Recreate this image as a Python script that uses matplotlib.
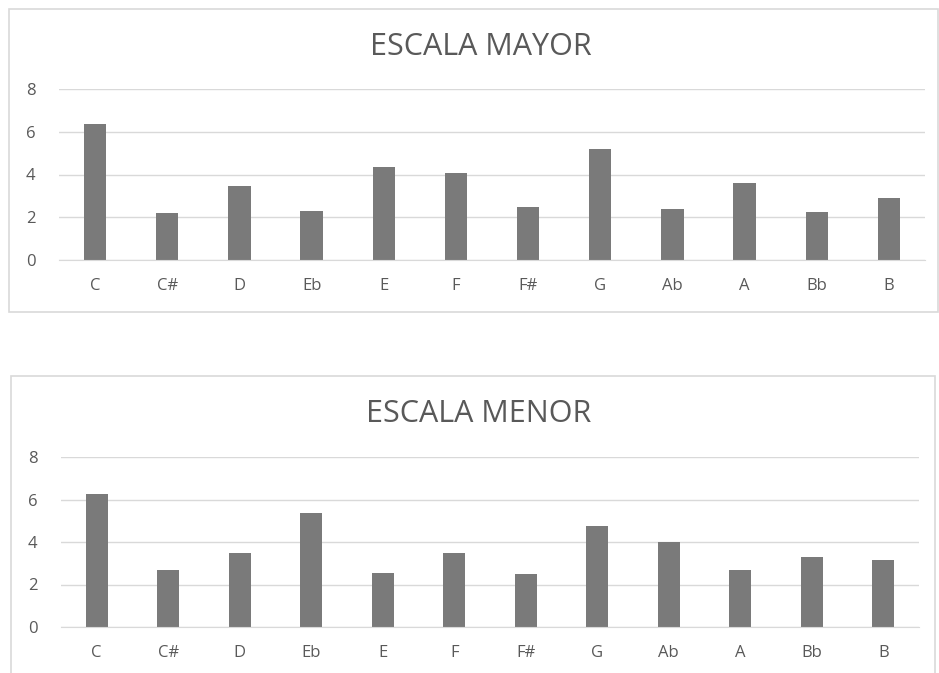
import matplotlib
matplotlib.use("Agg")
import matplotlib.pyplot as plt
from matplotlib.patches import Rectangle

# Note names along the x axis, shared by both scales
notes = ["C", "C#", "D", "Eb", "E", "F", "F#", "G", "Ab", "A", "Bb", "B"]

# Weight per note, major scale
mayor = [6.35, 2.2, 3.45, 2.3, 4.37, 4.06, 2.5, 5.17, 2.37, 3.62, 2.25, 2.88]
# Weight per note, minor scale
menor = [6.27, 2.67, 3.48, 5.35, 2.56, 3.48, 2.49, 4.74, 3.98, 2.67, 3.29, 3.17]

y_ticks = [0, 2, 4, 6, 8]

W, H = 939, 673
BAR = "#7a7a7a"
TEXT = "#595959"
GRID = "#d9d9d9"
FRAME = "#d9d9d9"

plt.rcParams["font.family"] = ["Open Sans", "DejaVu Sans"]

fig = plt.figure(figsize=(W / 100, H / 100), dpi=100)
fig.patch.set_facecolor("white")


def px_rect(left, top, right, bottom):
    """Pixel box (origin top-left) -> figure fraction [l, b, w, h]."""
    return [left / W, 1 - bottom / H, (right - left) / W, (bottom - top) / H]


def chart_frame(left, top, right, bottom):
    l, b, w, h = px_rect(left, top, right, bottom)
    fig.patches.append(Rectangle((l, b), w, h, transform=fig.transFigure,
                                 fill=False, edgecolor=FRAME, linewidth=1.2))


def bar_panel(box, values, title, title_xy):
    ax = fig.add_axes(px_rect(*box))
    x = range(len(notes))
    ax.bar(x, values, width=0.31, color=BAR, zorder=2)
    ax.set_xlim(-0.5, len(notes) - 0.5)
    ax.set_ylim(0, 8)
    ax.set_yticks(y_ticks)
    ax.set_xticks(list(x))
    ax.set_xticklabels(notes)
    ax.yaxis.grid(True, color=GRID, linewidth=1, zorder=0)
    ax.set_axisbelow(True)
    for side in ("top", "right", "left"):
        ax.spines[side].set_visible(False)
    ax.spines["bottom"].set_color(GRID)
    ax.tick_params(axis="y", length=0, pad=17, labelsize=12, labelcolor=TEXT)
    ax.tick_params(axis="x", length=0, pad=13, labelsize=12, labelcolor=TEXT)
    fig.text(title_xy[0] / W, 1 - title_xy[1] / H, title, ha="center",
             va="center", fontsize=22, color=TEXT)
    return ax


chart_frame(9, 9, 938, 312)
chart_frame(11, 376, 935, 690)

bar_panel((59, 89, 925, 260), mayor, "ESCALA MAYOR", (481, 47))
bar_panel((61, 457, 919, 627), menor, "ESCALA MENOR", (479, 414))

fig.savefig("out.png", dpi=100, facecolor="white")
